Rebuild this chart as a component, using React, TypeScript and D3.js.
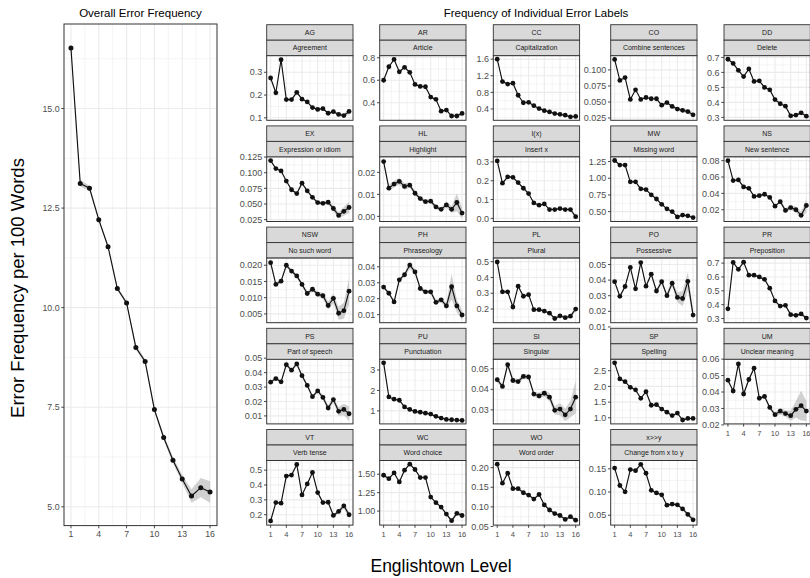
import React from "react";
import * as d3 from "d3";

const FONT = "'Liberation Sans', Arial, Helvetica, sans-serif";

const levels = [1, 2, 3, 4, 5, 6, 7, 8, 9, 10, 11, 12, 13, 14, 15, 16];
const levelTicks = ["1", "4", "7", "10", "13", "16"];

const overall = [16.52, 13.12, 13.0, 12.21, 11.53, 10.48, 10.12, 9.0, 8.65, 7.44, 6.74, 6.17, 5.7, 5.27, 5.48, 5.37];
const overallSe = [0.03, 0.08, 0.07, 0.05, 0.04, 0.05, 0.05, 0.06, 0.06, 0.06, 0.07, 0.08, 0.1, 0.17, 0.24, 0.27];
const overallTicks = ["5.0", "7.5", "10.0", "12.5", "15.0"];

const codes = ["AG", "AR", "CC", "CO", "DD", "EX", "HL", "I(x)", "MW", "NS", "NSW", "PH", "PL", "PO", "PR", "PS", "PU", "SI", "SP", "UM", "VT", "WC", "WO", "x>>y"];
const labels = ["Agreement", "Article", "Capitalization", "Combine sentences", "Delete", "Expression or idiom", "Highlight", "Insert x", "Missing word", "New sentence", "No such word", "Phraseology", "Plural", "Possessive", "Preposition", "Part of speech", "Punctuation", "Singular", "Spelling", "Unclear meaning", "Verb tense", "Word choice", "Word order", "Change from x to y"];

const AG = [0.275, 0.21, 0.355, 0.18, 0.18, 0.212, 0.182, 0.17, 0.145, 0.137, 0.14, 0.12, 0.127, 0.115, 0.11, 0.128];
const AR = [0.6, 0.72, 0.785, 0.675, 0.715, 0.67, 0.563, 0.545, 0.542, 0.45, 0.43, 0.325, 0.335, 0.282, 0.282, 0.305];
const CC = [1.6, 1.06, 1.0, 1.02, 0.73, 0.55, 0.56, 0.48, 0.41, 0.36, 0.33, 0.29, 0.27, 0.25, 0.21, 0.22];
const CO = [0.1164, 0.0836, 0.088, 0.054, 0.069, 0.054, 0.057, 0.055, 0.055, 0.045, 0.049, 0.043, 0.039, 0.037, 0.035, 0.03];
const DD = [0.688, 0.66, 0.614, 0.572, 0.623, 0.54, 0.544, 0.5, 0.484, 0.419, 0.391, 0.375, 0.31, 0.315, 0.33, 0.308];
const EX = [0.1194, 0.1067, 0.1028, 0.0867, 0.0728, 0.0667, 0.0833, 0.0711, 0.0606, 0.0522, 0.0511, 0.0528, 0.0428, 0.0317, 0.0383, 0.0444];
const HL = [0.0249, 0.0128, 0.0147, 0.0159, 0.0136, 0.0142, 0.0105, 0.0081, 0.0067, 0.0069, 0.0043, 0.0032, 0.0052, 0.0032, 0.0063, 0.0015];
const IX = [0.305, 0.187, 0.221, 0.218, 0.19, 0.16, 0.132, 0.082, 0.07, 0.077, 0.047, 0.047, 0.052, 0.047, 0.047, 0.009];
const MW = [1.266, 1.198, 1.198, 0.946, 0.946, 0.841, 0.83, 0.752, 0.689, 0.61, 0.542, 0.5, 0.421, 0.448, 0.437, 0.411];
const NS = [0.08, 0.0556, 0.0564, 0.0479, 0.0462, 0.0363, 0.0372, 0.0389, 0.035, 0.0243, 0.0299, 0.0192, 0.0226, 0.02, 0.0132, 0.0252];
const NSW = [0.0208, 0.0141, 0.0151, 0.02, 0.0182, 0.0167, 0.0141, 0.0113, 0.0126, 0.0111, 0.0106, 0.0076, 0.0098, 0.0052, 0.006, 0.012];
const PH = [0.0273, 0.0234, 0.018, 0.0318, 0.035, 0.0411, 0.0368, 0.0264, 0.0243, 0.0243, 0.0177, 0.0193, 0.0155, 0.0275, 0.0155, 0.0098];
const PL = [0.498, 0.309, 0.309, 0.213, 0.345, 0.281, 0.291, 0.196, 0.196, 0.187, 0.174, 0.14, 0.157, 0.145, 0.155, 0.2];
const PO = [0.039, 0.0296, 0.0359, 0.0481, 0.0344, 0.0512, 0.0361, 0.0438, 0.033, 0.039, 0.03, 0.038, 0.0289, 0.0282, 0.0392, 0.0176];
const PR = [0.37, 0.705, 0.655, 0.707, 0.613, 0.613, 0.6, 0.583, 0.519, 0.427, 0.39, 0.395, 0.328, 0.323, 0.333, 0.303];
const PS = [0.0334, 0.0359, 0.0336, 0.0455, 0.0417, 0.046, 0.0379, 0.0311, 0.0233, 0.0273, 0.0228, 0.0155, 0.0213, 0.0132, 0.0145, 0.0115];
const PU = [3.35, 1.68, 1.57, 1.52, 1.19, 1.07, 0.97, 0.935, 0.887, 0.84, 0.73, 0.645, 0.58, 0.565, 0.55, 0.53];
const SI = [0.0447, 0.0414, 0.052, 0.0443, 0.0438, 0.0463, 0.046, 0.0377, 0.0368, 0.0381, 0.0362, 0.0298, 0.0304, 0.0276, 0.0304, 0.0362];
const SP = [2.75, 2.24, 2.15, 1.97, 1.89, 1.62, 1.83, 1.4, 1.42, 1.28, 1.18, 1.07, 1.15, 0.93, 0.98, 0.98];
const UM = [0.0472, 0.0406, 0.0571, 0.0388, 0.0476, 0.0545, 0.0362, 0.0373, 0.0306, 0.0262, 0.0284, 0.0269, 0.0256, 0.0295, 0.0317, 0.0284];
const VT = [0.158, 0.282, 0.278, 0.46, 0.467, 0.538, 0.333, 0.407, 0.484, 0.349, 0.282, 0.284, 0.195, 0.222, 0.26, 0.2];
const WC = [1.486, 1.44, 1.518, 1.395, 1.555, 1.636, 1.564, 1.455, 1.455, 1.19, 1.114, 1.055, 0.96, 0.87, 0.97, 0.94];
const WO = [0.2088, 0.1605, 0.186, 0.1465, 0.1465, 0.136, 0.13, 0.12, 0.1316, 0.105, 0.092, 0.083, 0.078, 0.068, 0.075, 0.066];
const XY = [0.1516, 0.114, 0.1004, 0.1484, 0.146, 0.1596, 0.1404, 0.1036, 0.098, 0.094, 0.0716, 0.074, 0.0724, 0.0636, 0.0516, 0.04];

const AG_se = [0.004, 0.004, 0.005, 0.004, 0.004, 0.004, 0.004, 0.004, 0.004, 0.004, 0.004, 0.004, 0.005, 0.006, 0.008, 0.012];
const AR_se = [0.007, 0.007, 0.007, 0.007, 0.007, 0.007, 0.007, 0.007, 0.007, 0.007, 0.008, 0.008, 0.009, 0.01, 0.012, 0.014];
const CC_se = [0.012, 0.01, 0.01, 0.01, 0.01, 0.008, 0.008, 0.008, 0.008, 0.008, 0.008, 0.008, 0.009, 0.01, 0.012, 0.015];
const CO_se = [0.0012, 0.001, 0.001, 0.001, 0.001, 0.001, 0.001, 0.001, 0.001, 0.0012, 0.0015, 0.002, 0.0025, 0.003, 0.0035, 0.004];
const DD_se = [0.004, 0.004, 0.004, 0.004, 0.004, 0.004, 0.004, 0.004, 0.004, 0.004, 0.005, 0.005, 0.006, 0.007, 0.01, 0.008];
const EX_se = [0.0012, 0.0012, 0.0012, 0.0012, 0.0012, 0.0012, 0.0015, 0.0015, 0.0018, 0.002, 0.0025, 0.0035, 0.0045, 0.005, 0.007, 0.009];
const HL_se = [0.0008, 0.0015, 0.0015, 0.0015, 0.0015, 0.0012, 0.001, 0.0009, 0.0009, 0.0009, 0.0009, 0.001, 0.0013, 0.0015, 0.004, 0.0025];
const IX_se = [0.006, 0.005, 0.005, 0.005, 0.005, 0.004, 0.004, 0.004, 0.004, 0.004, 0.004, 0.004, 0.005, 0.006, 0.008, 0.01];
const MW_se = [0.01, 0.009, 0.009, 0.008, 0.008, 0.008, 0.008, 0.008, 0.008, 0.008, 0.008, 0.008, 0.009, 0.01, 0.012, 0.015];
const NS_se = [0.001, 0.001, 0.001, 0.001, 0.001, 0.001, 0.001, 0.001, 0.0012, 0.0015, 0.002, 0.0025, 0.003, 0.0035, 0.004, 0.008];
const NSW_se = [0.0005, 0.0006, 0.0006, 0.0006, 0.0006, 0.0006, 0.0006, 0.0006, 0.0007, 0.0007, 0.0009, 0.0012, 0.0015, 0.002, 0.0025, 0.004];
const PH_se = [0.001, 0.001, 0.001, 0.0012, 0.0012, 0.0025, 0.0015, 0.0012, 0.0012, 0.0012, 0.0015, 0.0015, 0.002, 0.008, 0.004, 0.003];
const PL_se = [0.006, 0.006, 0.006, 0.006, 0.006, 0.006, 0.006, 0.006, 0.006, 0.006, 0.007, 0.008, 0.009, 0.01, 0.012, 0.015];
const PO_se = [0.001, 0.001, 0.001, 0.001, 0.001, 0.001, 0.001, 0.001, 0.0012, 0.0015, 0.002, 0.002, 0.003, 0.005, 0.006, 0.003];
const PR_se = [0.008, 0.008, 0.008, 0.008, 0.008, 0.008, 0.008, 0.008, 0.008, 0.008, 0.008, 0.008, 0.009, 0.01, 0.012, 0.012];
const PS_se = [0.001, 0.001, 0.001, 0.0012, 0.0012, 0.0012, 0.0012, 0.0012, 0.0012, 0.0013, 0.0015, 0.002, 0.002, 0.003, 0.004, 0.005];
const PU_se = [0.03, 0.02, 0.02, 0.02, 0.02, 0.02, 0.02, 0.02, 0.02, 0.02, 0.02, 0.02, 0.02, 0.02, 0.02, 0.025];
const SI_se = [0.0012, 0.0012, 0.0012, 0.0012, 0.0012, 0.0012, 0.0012, 0.0012, 0.0015, 0.0015, 0.002, 0.002, 0.003, 0.003, 0.004, 0.008];
const SP_se = [0.02, 0.02, 0.02, 0.02, 0.02, 0.02, 0.02, 0.02, 0.02, 0.02, 0.02, 0.02, 0.025, 0.03, 0.035, 0.04];
const UM_se = [0.001, 0.001, 0.001, 0.001, 0.001, 0.001, 0.001, 0.001, 0.0012, 0.0015, 0.002, 0.002, 0.003, 0.005, 0.009, 0.006];
const VT_se = [0.008, 0.007, 0.007, 0.007, 0.007, 0.007, 0.007, 0.007, 0.007, 0.007, 0.008, 0.008, 0.01, 0.012, 0.02, 0.02];
const WC_se = [0.012, 0.01, 0.01, 0.01, 0.01, 0.01, 0.01, 0.01, 0.01, 0.01, 0.012, 0.012, 0.015, 0.02, 0.03, 0.03];
const WO_se = [0.002, 0.002, 0.002, 0.002, 0.002, 0.002, 0.002, 0.002, 0.002, 0.002, 0.002, 0.0025, 0.003, 0.003, 0.004, 0.005];
const XY_se = [0.002, 0.002, 0.002, 0.002, 0.002, 0.002, 0.002, 0.002, 0.002, 0.002, 0.002, 0.0025, 0.003, 0.003, 0.004, 0.005];

const AG_ticks = ["0.1", "0.2", "0.3"];
const AR_ticks = ["0.4", "0.6", "0.8"];
const CC_ticks = ["0.4", "0.8", "1.2", "1.6"];
const CO_ticks = ["0.025", "0.050", "0.075", "0.100"];
const DD_ticks = ["0.3", "0.4", "0.5", "0.6", "0.7"];
const EX_ticks = ["0.025", "0.050", "0.075", "0.100", "0.125"];
const HL_ticks = ["0.00", "0.01", "0.02"];
const IX_ticks = ["0.0", "0.1", "0.2", "0.3"];
const MW_ticks = ["0.50", "0.75", "1.00", "1.25"];
const NS_ticks = ["0.02", "0.04", "0.06", "0.08"];
const NSW_ticks = ["0.005", "0.010", "0.015", "0.020"];
const PH_ticks = ["0.01", "0.02", "0.03", "0.04"];
const PL_ticks = ["0.2", "0.3", "0.4", "0.5"];
const PO_ticks = ["0.01", "0.02", "0.03", "0.04", "0.05"];
const PR_ticks = ["0.3", "0.4", "0.5", "0.6", "0.7"];
const PS_ticks = ["0.01", "0.02", "0.03", "0.04", "0.05"];
const PU_ticks = ["1", "2", "3"];
const SI_ticks = ["0.03", "0.04", "0.05"];
const SP_ticks = ["1.0", "1.5", "2.0", "2.5"];
const UM_ticks = ["0.02", "0.03", "0.04", "0.05", "0.06"];
const VT_ticks = ["0.2", "0.3", "0.4", "0.5"];
const WC_ticks = ["1.00", "1.25", "1.50"];
const WO_ticks = ["0.05", "0.10", "0.15", "0.20"];
const XY_ticks = ["0.05", "0.10", "0.15"];

const valueTable = [AG, AR, CC, CO, DD, EX, HL, IX, MW, NS, NSW, PH, PL, PO, PR, PS, PU, SI, SP, UM, VT, WC, WO, XY];
const seTable = [AG_se, AR_se, CC_se, CO_se, DD_se, EX_se, HL_se, IX_se, MW_se, NS_se, NSW_se, PH_se, PL_se, PO_se, PR_se, PS_se, PU_se, SI_se, SP_se, UM_se, VT_se, WC_se, WO_se, XY_se];
const tickTable = [AG_ticks, AR_ticks, CC_ticks, CO_ticks, DD_ticks, EX_ticks, HL_ticks, IX_ticks, MW_ticks, NS_ticks, NSW_ticks, PH_ticks, PL_ticks, PO_ticks, PR_ticks, PS_ticks, PU_ticks, SI_ticks, SP_ticks, UM_ticks, VT_ticks, WC_ticks, WO_ticks, XY_ticks];

function expand(lo: number, hi: number): [number, number] {
  const r = hi - lo;
  return [lo - 0.05 * r, hi + 0.05 * r];
}

function minorBreaks(major: number[], dom: [number, number]) {
  const step = major[1] - major[0];
  const out: number[] = [];
  for (let v = major[0] - step / 2; v <= dom[1] + 1e-12; v += step) {
    if (v >= dom[0]) out.push(v);
  }
  return out;
}

type PanelProps = {
  x0: number; y0: number; w: number; h: number;
  values: number[]; se: number[]; ticks: string[];
  showX: boolean; yFont: number; xFont: number; xLabOff: number; r: number;
};

function Panel({ x0, y0, w, h, values, se, ticks, showX, yFont, xFont, xLabOff, r }: PanelProps) {
  const xDom = expand(d3.min(levels)!, d3.max(levels)!);
  const x = d3.scaleLinear().domain(xDom).range([x0, x0 + w]);
  const lo = d3.min(values.map((v, i) => v - se[i]))!;
  const hi = d3.max(values.map((v, i) => v + se[i]))!;
  const yDom = expand(lo, hi);
  const y = d3.scaleLinear().domain(yDom).range([y0 + h, y0]);
  const yMaj = ticks.map(Number);
  const yMin = minorBreaks(yMaj, yDom);
  const xMaj = levelTicks.map(Number);
  const xMin = minorBreaks(xMaj, xDom);
  const pts = levels.map((l, i) => ({ l, v: values[i], s: se[i] }));
  const area = d3.area<any>().x((d) => x(d.l)).y0((d) => y(d.v - d.s)).y1((d) => y(d.v + d.s));
  const line = d3.line<any>().x((d) => x(d.l)).y((d) => y(d.v));
  const grid = "#EBEBEB";
  return (
    <g>
      <rect x={x0} y={y0} width={w} height={h} fill="#fff" />
      {yMin.map((v, i) => (
        <line key={"ym" + i} x1={x0} x2={x0 + w} y1={y(v)} y2={y(v)} stroke={grid} strokeWidth={0.55} />
      ))}
      {xMin.map((v, i) => (
        <line key={"xm" + i} x1={x(v)} x2={x(v)} y1={y0} y2={y0 + h} stroke={grid} strokeWidth={0.55} />
      ))}
      {yMaj.map((v, i) => (
        <line key={"yM" + i} x1={x0} x2={x0 + w} y1={y(v)} y2={y(v)} stroke={grid} strokeWidth={1.1} />
      ))}
      {xMaj.map((v, i) => (
        <line key={"xM" + i} x1={x(v)} x2={x(v)} y1={y0} y2={y0 + h} stroke={grid} strokeWidth={1.1} />
      ))}
      <path d={area(pts) || ""} fill="#999999" fillOpacity={0.45} />
      <path d={line(pts) || ""} fill="none" stroke="#111" strokeWidth={1.15} />
      {pts.map((d, i) => (
        <circle key={"p" + i} cx={x(d.l)} cy={y(d.v)} r={r} fill="#111" />
      ))}
      <rect x={x0} y={y0} width={w} height={h} fill="none" stroke="#333" strokeWidth={1} />
      {yMaj.map((v, i) => (
        <g key={"yt" + i}>
          <line x1={x0 - 2.7} x2={x0} y1={y(v)} y2={y(v)} stroke="#333" strokeWidth={0.9} />
          <text x={x0 - 4.4} y={y(v)} dy="0.35em" textAnchor="end" fontSize={yFont} fill="#4D4D4D" fontFamily={FONT}>
            {ticks[i]}
          </text>
        </g>
      ))}
      {showX &&
        xMaj.map((v, i) => (
          <g key={"xt" + i}>
            <line x1={x(v)} x2={x(v)} y1={y0 + h} y2={y0 + h + 2.7} stroke="#333" strokeWidth={0.9} />
            <text x={x(v)} y={y0 + h + xLabOff} dy="0.35em" textAnchor="middle" fontSize={xFont} fill="#4D4D4D" fontFamily={FONT}>
              {levelTicks[i]}
            </text>
          </g>
        ))}
    </g>
  );
}

const colX = [266.7, 379.7, 493.3, 610.7, 724];
const panelW = 86.3;
const rowTop0 = 24.7;
const rowStep = 101.2;
const stripH = 15.5;
const panelH = 64.6;

export default function App() {
  return (
    <svg
      width={810}
      height={578}
      viewBox="0 0 810 578"
      style={{ position: "absolute", left: 0, top: 0, background: "#fff", display: "block" }}
    >
      <rect x={0} y={0} width={810} height={578} fill="#fff" />
      <text x={140.5} y={16.5} textAnchor="middle" fontSize={11.5} fontFamily={FONT} fill="#000">
        Overall Error Frequency
      </text>
      <text x={536} y={16.5} textAnchor="middle" fontSize={11.5} fontFamily={FONT} fill="#000">
        Frequency of Individual Error Labels
      </text>
      <Panel
        x0={64} y0={24} w={153} h={501.6}
        values={overall} se={overallSe} ticks={overallTicks}
        showX={true} yFont={8.8} xFont={8.8} xLabOff={8.6} r={2.5}
      />
      {codes.map((code, i) => {
        const row = Math.floor(i / 5);
        const col = i % 5;
        const T = rowTop0 + row * rowStep;
        const x0 = colX[col];
        const showX = row === 4 || (col === 4 && row === 3);
        return (
          <g key={code}>
            <rect x={x0} y={T} width={panelW} height={stripH} fill="#D9D9D9" stroke="#333" strokeWidth={0.9} />
            <text x={x0 + panelW / 2} y={T + stripH / 2} dy="0.35em" textAnchor="middle" fontSize={7} fontFamily={FONT} fill="#1A1A1A">
              {code}
            </text>
            <rect x={x0} y={T + stripH} width={panelW} height={stripH} fill="#D9D9D9" stroke="#333" strokeWidth={0.9} />
            <text x={x0 + panelW / 2} y={T + stripH * 1.5} dy="0.35em" textAnchor="middle" fontSize={7} fontFamily={FONT} fill="#1A1A1A">
              {labels[i]}
            </text>
            <Panel
              x0={x0} y0={T + 2 * stripH} w={panelW} h={panelH}
              values={valueTable[i]} se={seTable[i]} ticks={tickTable[i]}
              showX={showX} yFont={9} xFont={7.5} xLabOff={9} r={2.4}
            />
          </g>
        );
      })}
      <text
        transform="translate(18,288) rotate(-90)"
        textAnchor="middle"
        dy="0.35em"
        fontSize={18.5}
        fontFamily={FONT}
        fill="#000"
      >
        Error Frequency per 100 Words
      </text>
      <text x={441} y={566} dy="0.35em" textAnchor="middle" fontSize={17.5} fontFamily={FONT} fill="#000">
        Englishtown Level
      </text>
    </svg>
  );
}
